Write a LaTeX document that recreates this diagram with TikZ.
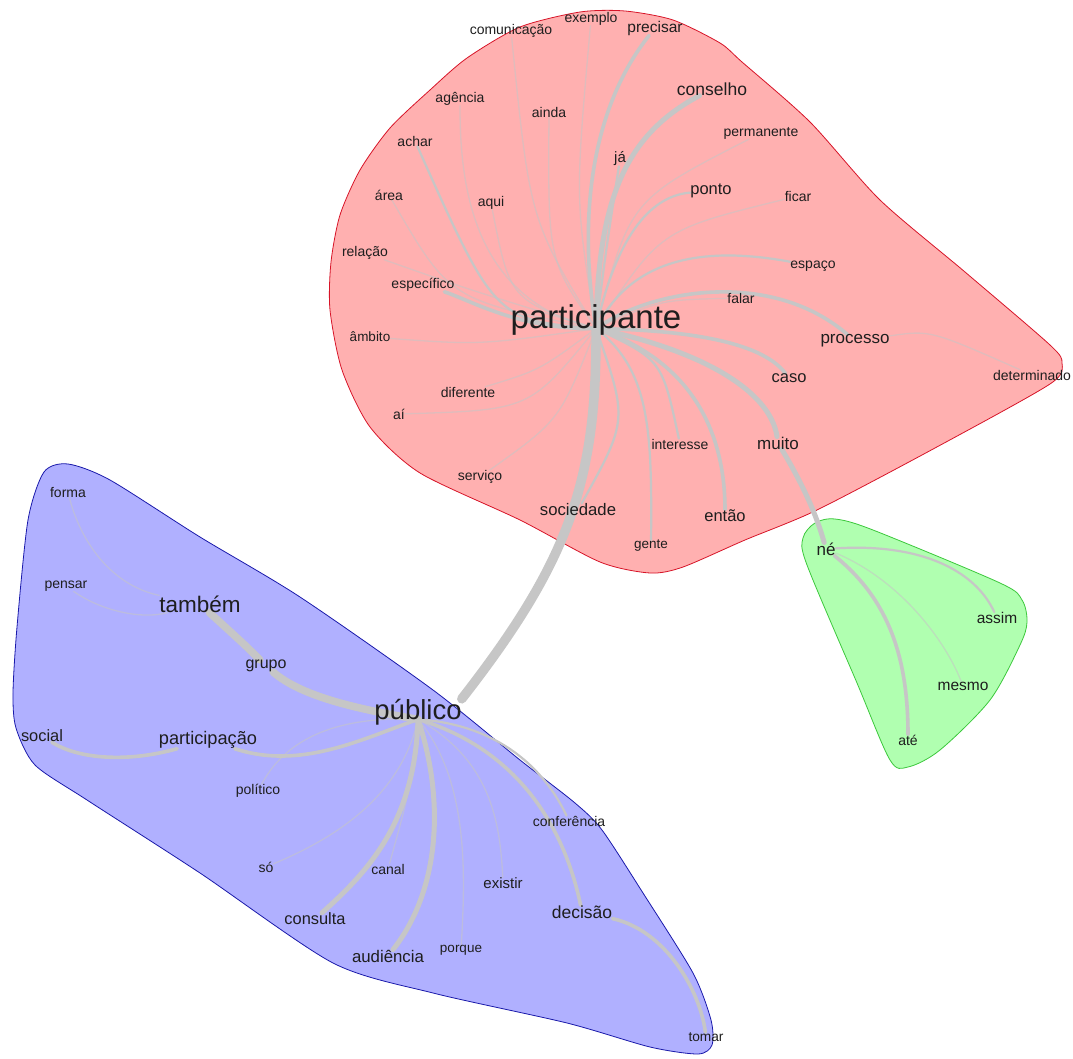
\documentclass[tikz,border=0pt]{standalone}
\usepackage{fontspec}
\setmainfont{Liberation Sans}
\pgfdeclarelayer{clusters}
\pgfdeclarelayer{edges}
\pgfsetlayers{clusters,edges,main}
\definecolor{redfill}{RGB}{255,176,176}
\definecolor{redline}{RGB}{215,20,40}
\definecolor{bluefill}{RGB}{176,176,255}
\definecolor{blueline}{RGB}{25,25,170}
\definecolor{greenfill}{RGB}{176,255,176}
\definecolor{greenline}{RGB}{60,200,60}
\definecolor{edgec}{RGB}{198,198,198}
\definecolor{txt}{RGB}{30,30,30}
\tikzset{
  w/.style={font=\fontsize{#1}{#1}\selectfont, inner sep=0pt, text=txt},
  ef/.style={draw=edgec, line width=1.3pt, draw opacity=0.55, line cap=round},
  ea/.style={draw=edgec, line width=2.2pt, line cap=round},
  eb/.style={draw=edgec, line width=3.6pt, line cap=round},
  ec/.style={draw=edgec, line width=5pt, line cap=round},
  ed/.style={draw=edgec, line width=7.5pt, line cap=round},
  ee/.style={draw=edgec, line width=9.5pt, line cap=round},
  cl/.style={line width=0.8pt},
}
\begin{document}
\begin{tikzpicture}[x=1pt,y=-1pt]
\useasboundingbox (0,0) rectangle (1073,1059);
% ---------- words: red cluster ----------
\node[w=14]   (exemplo)     at (591,19)  {exemplo};
\node[w=15.5] (precisar)    at (655,28)  {precisar};
\node[w=14]   (comunicacao) at (511,31)  {comunicação};
\node[w=17.5] (conselho)    at (712,89)  {conselho};
\node[w=14]   (agencia)     at (460,99)  {agência};
\node[w=14]   (ainda)       at (549,112) {ainda};
\node[w=14]   (permanente)  at (761,133) {permanente};
\node[w=14]   (achar)       at (415,141) {achar};
\node[w=15]   (ja)          at (620,159) {já};
\node[w=14]   (area)        at (389,195) {área};
\node[w=14]   (aqui)        at (491,203) {aqui};
\node[w=16.5] (ponto)       at (711,191) {ponto};
\node[w=14]   (ficar)       at (798,196) {ficar};
\node[w=14]   (relacao)     at (365,253) {relação};
\node[w=14]   (especifico)  at (423,285) {específico};
\node[w=14]   (espaco)      at (813,266) {espaço};
\node[w=14]   (falar)       at (741,298) {falar};
\node[w=33]   (participante) at (596,320) {participante};
\node[w=17]   (processo)    at (855,341) {processo};
\node[w=13.5] (ambito)      at (370,337) {âmbito};
\node[w=14]   (determinado) at (1032,375) {determinado};
\node[w=16.5] (caso)        at (789,378) {caso};
\node[w=14]   (diferente)   at (468,392) {diferente};
\node[w=14]   (ai)          at (399,414) {aí};
\node[w=14]   (interesse)   at (680,444) {interesse};
\node[w=17]   (muito)       at (778,443) {muito};
\node[w=14]   (servico)     at (480,477) {serviço};
\node[w=16.7] (sociedade)   at (578,510) {sociedade};
\node[w=16.5] (entao)       at (725,516) {então};
\node[w=13.5] (gente)       at (651,546) {gente};
% ---------- words: green cluster ----------
\node[w=17]   (ne)          at (826,549) {né};
\node[w=15.5] (assim)       at (997,618) {assim};
\node[w=15.5] (mesmo)       at (963,686) {mesmo};
\node[w=14]   (ate)         at (908,740) {até};
% ---------- words: blue cluster ----------
\node[w=14]   (forma)       at (68,492)  {forma};
\node[w=14]   (pensar)      at (66,586)  {pensar};
\node[w=22.5] (tambem)      at (200,604) {também};
\node[w=16]   (grupo)       at (266,666) {grupo};
\node[w=27.5] (publico)     at (418,712) {público};
\node[w=16.4] (social)      at (42,736)  {social};
\node[w=18.2] (participacao) at (208,740) {participação};
\node[w=14]   (politico)    at (258,791) {político};
\node[w=14]   (conferencia) at (569,821) {conferência};
\node[w=14]   (so)          at (266,867) {só};
\node[w=14]   (canal)       at (388,869) {canal};
\node[w=15]   (existir)     at (503,883) {existir};
\node[w=17.5] (decisao)     at (582,912) {decisão};
\node[w=16.4] (consulta)    at (315,919) {consulta};
\node[w=16.8] (audiencia)   at (388,956) {audiência};
\node[w=13.5] (porque)      at (461,950) {porque};
\node[w=13.7] (tomar)       at (706,1037) {tomar};

% ---------- cluster hulls ----------
\begin{pgfonlayer}{clusters}
\draw[cl, fill=redfill, draw=redline] plot[smooth cycle, tension=0.45] coordinates {
 (331,262) (340,215) (360,170) (390,128) (430,90) (467,58) (520,27) (580,12)
 (625,11) (673,20) (720,43) (742,62) (810,122) (880,200) (965,272) (1050,345)
 (1062,363) (1050,384) (935,448) (817,510) (745,540) (683,567) (650,573)
 (600,562) (520,520) (420,473) (370,427) (342,370) (330,310)};
\draw[cl, fill=bluefill, draw=blueline] plot[smooth cycle, tension=0.45] coordinates {
 (44,472) (68,464) (110,480) (200,537) (300,597) (433,690) (520,760) (575,803)
 (602,830) (643,893) (693,973) (711,1020) (712,1045) (698,1054) (650,1047)
 (567,1023) (433,993) (333,963) (200,873) (87,800) (35,765) (16,728) (13,693)
 (17,627) (28,520)};
\draw[cl, fill=greenfill, draw=greenline] plot[smooth cycle, tension=0.5] coordinates {
 (815,523) (835,519) (873,530) (1000,583) (1022,600) (1027,622) (1020,645)
 (990,700) (940,750) (908,767) (890,760) (857,683) (807,565) (803,538)};
\end{pgfonlayer}

% ---------- edges ----------
\begin{pgfonlayer}{edges}
\coordinate (P) at (participante.base);
\coordinate (B) at (publico.base);
% red
\draw[ee] (P) .. controls (597,480) and (570,560) .. (publico.north east);
\draw[eb] (P) .. controls (578,220) and (590,110) .. (precisar);
\draw[ec] (P) .. controls (598,200) and (625,135) .. (conselho);
\draw[ea] (P) .. controls (606,250) .. (ja);
\draw[ef] (P) .. controls (575,200) .. (exemplo);
\draw[ef] (P) .. controls (530,220) .. (comunicacao);
\draw[ef] (P) .. controls (470,300) and (460,180) .. (agencia);
\draw[ef] (P) .. controls (548,260) .. (ainda);
\draw[ea] (P) .. controls (495,320) .. (achar);
\draw[ef] (P) .. controls (450,300) .. (area);
\draw[ef] (P) .. controls (510,300) .. (aqui);
\draw[ef] (P) .. controls (470,290) .. (relacao);
\draw[eb] (P) .. controls (520,330) and (470,300) .. (especifico);
\draw[ef] (P) .. controls (480,345) .. (ambito);
\draw[ef] (P) .. controls (540,370) .. (diferente);
\draw[ef] (P) .. controls (530,410) .. (ai);
\draw[ef] (P) .. controls (560,420) .. (servico);
\draw[ea] (P) .. controls (628,420) .. (sociedade);
\draw[ea] (P) .. controls (650,370) and (652,430) .. (gente);
\draw[ea] (P) .. controls (662,360) .. (interesse);
\draw[eb] (P) .. controls (690,360) and (725,430) .. (entao);
\draw[ec] (P) .. controls (700,350) and (770,390) .. (muito);
\draw[eb] (P) .. controls (680,330) and (760,340) .. (caso);
\draw[eb] (P) .. controls (650,290) and (770,268) .. (processo);
\draw[ef] (P) .. controls (660,300) .. (falar);
\draw[ea] (P) .. controls (630,260) and (700,245) .. (espaco);
\draw[ef] (P) .. controls (660,230) .. (ficar);
\draw[ea] (P) .. controls (620,220) and (660,195) .. (ponto);
\draw[ef] (P) .. controls (630,200) .. (permanente);
\draw[ef] (processo) .. controls (930,330) .. (determinado);
\draw[ec] (muito) .. controls (800,480) and (815,510) .. (ne);
% green
\draw[ea] (ne) .. controls (920,543) and (975,570) .. (assim);
\draw[ef] (ne) .. controls (900,580) and (945,640) .. (mesmo);
\draw[eb] (ne) .. controls (890,600) and (908,660) .. (ate);
% blue
\draw[ed] (B) .. controls (350,708) and (300,695) .. (grupo);
\draw[ed] (grupo) .. controls (245,645) .. (tambem);
\draw[ef] (tambem) .. controls (110,585) and (80,540) .. (forma);
\draw[ef] (tambem) .. controls (140,620) and (100,610) .. (pensar);
\draw[eb] (B) .. controls (360,740) and (300,770) .. (participacao);
\draw[eb] (participacao) .. controls (130,762) and (80,760) .. (social);
\draw[ef] (B) .. controls (320,715) and (280,750) .. (politico);
\draw[ef] (B) .. controls (400,800) and (330,840) .. (so);
\draw[ec] (B) .. controls (415,820) and (370,870) .. (consulta);
\draw[ef] (B) .. controls (410,790) .. (canal);
\draw[ec] (B) .. controls (445,800) and (440,890) .. (audiencia);
\draw[ef] (B) .. controls (470,780) and (465,880) .. (porque);
\draw[ef] (B) .. controls (490,760) and (500,820) .. (existir);
\draw[eb] (B) .. controls (520,750) and (565,830) .. (decisao);
\draw[ea] (B) .. controls (500,725) and (545,770) .. (conferencia);
\draw[eb] (decisao) .. controls (665,930) and (700,990) .. (tomar);
\end{pgfonlayer}
\end{tikzpicture}
\end{document}
